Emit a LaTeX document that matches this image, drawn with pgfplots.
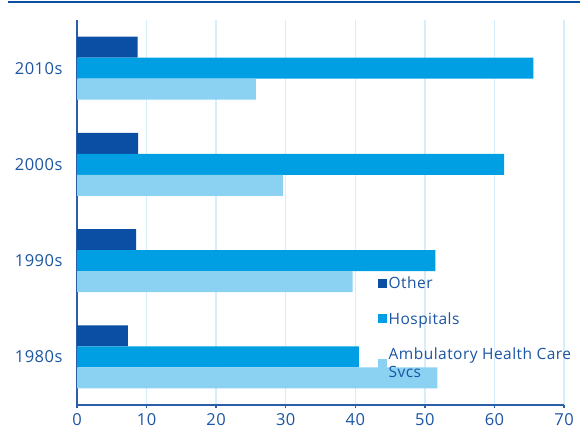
\documentclass[border=0pt]{standalone}
\usepackage{pgfplots}
\pgfplotsset{compat=1.18}
\usepackage{fontspec}
\setmainfont{Open Sans}[LetterSpace=3]
\definecolor{topcol}{HTML}{0A4FA3}
\definecolor{axiscol}{HTML}{2A5DAA}
\definecolor{textcol}{HTML}{1B55A3}
\definecolor{gridcol}{HTML}{D5EEF9}
\definecolor{othercol}{HTML}{0A4FA3}
\definecolor{hospcol}{HTML}{009FE3}
\definecolor{ambcol}{HTML}{8AD1F2}
\begin{document}
\begin{tikzpicture}
\path[use as bounding box] (0,0) rectangle (580pt,-436pt);
\draw[topcol, line width=2pt] (8pt,-2pt) -- (580pt,-2pt);
\begin{axis}[
    at={(77pt,-405pt)}, anchor=south west,
    scale only axis, width=487pt, height=385pt,
    xbar, bar width=0.218,
    legend image code/.code={\path[#1,draw=none] (0pt,-4.5pt) rectangle (9pt,4.5pt);},
    xmin=0, xmax=70, ymin=-0.5, ymax=3.5,
    axis lines*=left,
    axis line style={axiscol, line width=1.5pt},
    tick align=outside,
    xtick={0,10,...,70},
    xmajorgrids, grid style={gridcol, line width=1.5pt},
    major tick length=3pt,
    xtick style={axiscol, line width=1.5pt},
    ytick={0,1,2,3},
    yticklabels={1980s,1990s,2000s,2010s},
    ytick style={draw=none},
    minor ytick={-0.5,0.5,1.5,2.5,3.5},
    minor tick length=8pt,
    minor y tick style={axiscol, line width=1.5pt},
    /pgf/number format/assume math mode=true,
    tick label style={font=\fontsize{16.5}{19}\selectfont, text=textcol},
    yticklabel style={xshift=-8pt},
    xticklabel style={yshift=-2pt},
    legend style={at={(0.617,0.338)}, anchor=north west, draw=none, fill=none,
        font=\fontsize{15.5}{18}\selectfont, text=textcol,
        row sep=18pt, inner sep=0pt,
        cells={anchor=west, align=left}},
]
\addplot[fill=othercol, draw=none, bar shift=0.218] coordinates {(7.3,0) (8.5,1) (8.8,2) (8.7,3)};
\addlegendentry{Other}
\addplot[fill=hospcol, draw=none, bar shift=0] coordinates {(40.5,0) (51.5,1) (61.4,2) (65.6,3)};
\addlegendentry{Hospitals}
\addplot[fill=ambcol, draw=none, bar shift=-0.218] coordinates {(51.8,0) (39.6,1) (29.6,2) (25.7,3)};
\addlegendentry{Ambulatory Health Care\\Svcs}
\end{axis}
\end{tikzpicture}
\end{document}
